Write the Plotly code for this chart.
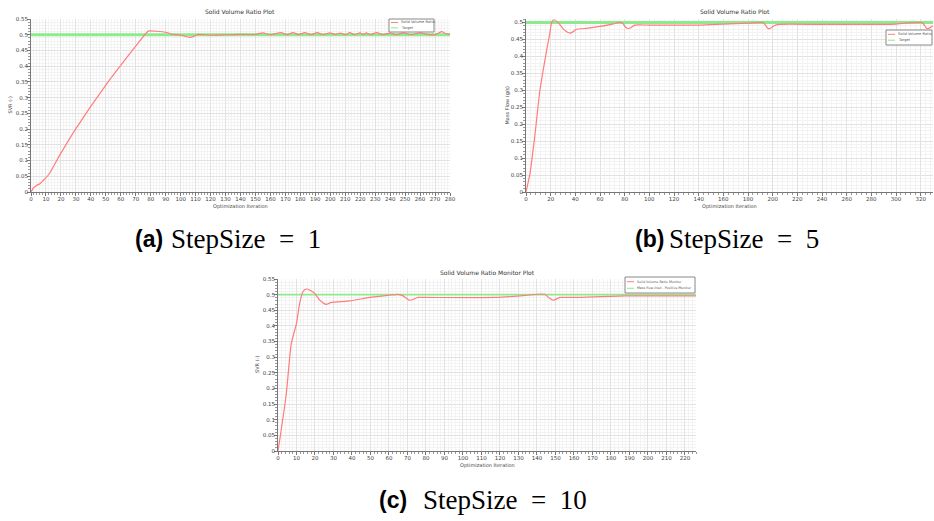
import plotly.graph_objects as go

# ---------------- data ----------------
# (a) StepSize = 1
a_iter = [0, 1.6, 3.8, 6, 9.4, 12.2, 19.8, 29.8, 50, 69.7, 77.3, 79, 84, 90.6, 95, 100.7, 105.8, 108.5, 111.8,
          120, 130, 140, 150, 154.8, 160, 167, 171, 175, 179, 183, 187, 191.3, 195, 199.8, 203, 207, 210, 213,
          216, 219.8, 222, 224, 227, 231, 235, 240, 244, 248.8, 254, 260, 266, 270, 274.4, 277, 280]
a_svr = [0.0, 0.0127, 0.021, 0.0265, 0.0425, 0.058, 0.122, 0.2, 0.34, 0.462, 0.507, 0.512, 0.511, 0.507, 0.501,
         0.498, 0.4915, 0.494, 0.501, 0.499, 0.5, 0.501, 0.501, 0.506, 0.5, 0.507, 0.5, 0.507, 0.5, 0.507, 0.5,
         0.507, 0.5, 0.506, 0.501, 0.505, 0.5, 0.507, 0.5, 0.506, 0.501, 0.506, 0.5, 0.507, 0.5, 0.505, 0.5,
         0.506, 0.5, 0.506, 0.5, 0.5, 0.51, 0.504, 0.502]
a_target_x = [0, 280]
a_target_y = [0.5, 0.5]

# (b) StepSize = 5
b_iter = [0, 3.2, 7.3, 11.3, 16.7, 19.4, 20.8, 22.7, 26, 31, 35.6, 38, 40.5, 50, 60, 70, 76, 78.5, 81, 83, 85,
          88, 100, 140, 160, 180, 191, 193, 196, 198, 201, 205, 240, 300, 305, 320, 322, 325, 327, 330]
b_svr = [0.0, 0.054, 0.17, 0.3, 0.417, 0.47, 0.5, 0.5078, 0.5, 0.478, 0.4686, 0.472, 0.479, 0.483, 0.488,
         0.495, 0.5, 0.497, 0.485, 0.482, 0.484, 0.492, 0.492, 0.492, 0.495, 0.498, 0.5, 0.497, 0.483, 0.482,
         0.49, 0.494, 0.494, 0.495, 0.497, 0.5, 0.497, 0.482, 0.483, 0.49]
b_target_x = [0, 330]
b_target_y = [0.5, 0.5]

# (c) StepSize = 10
c_iter = [0, 0.9, 4.5, 7.2, 10, 11.7, 13.5, 15.3, 17, 19.8, 22.5, 26, 28.9, 38.8, 49.6, 60, 65, 67.6, 71.2,
          75.7, 80, 118, 132.5, 142.5, 144.3, 146.5, 148.8, 152.4, 160, 188, 226]
c_svr = [0.0, 0.034, 0.184, 0.344, 0.408, 0.472, 0.51, 0.518, 0.515, 0.504, 0.483, 0.469, 0.475, 0.48, 0.491,
         0.498, 0.501, 0.496, 0.482, 0.491, 0.491, 0.491, 0.497, 0.502, 0.501, 0.49, 0.482, 0.491, 0.491,
         0.496, 0.496]
c_target_x = [0, 226]
c_target_y = [0.5, 0.5]

titles = ["Solid Volume Ratio Plot", "Solid Volume Ratio Plot", "Solid Volume Ratio Monitor Plot"]
ylabels = ["SVR (-)", "Mass Flow (g/s)", "SVR (-)"]
xlabel = "Optimization Iteration"
legend_names = [["Solid Volume Ratio", "Target"], ["Solid Volume Ratio", "Target"],
                ["Solid Volume Ratio Monitor", "Mass flow inlet - Positive Monitor"]]
captions = ["(a)", "(b)", "(c)"]
caption_text = ["StepSize&nbsp;&nbsp;=&nbsp;&nbsp;1", "StepSize&nbsp;&nbsp;=&nbsp;&nbsp;5",
                "StepSize&nbsp;&nbsp;=&nbsp;&nbsp;10"]

# ---------------- figure ----------------
W, H = 934, 521
RED = "rgb(255,125,125)"
GREEN = "rgb(140,235,140)"

fig = go.Figure()

panels = [
    dict(x=a_iter, y=a_svr, tx=a_target_x, ty=a_target_y, xr=[0, 280], yr=[0, 0.55], dt=10, gw=3),
    dict(x=b_iter, y=b_svr, tx=b_target_x, ty=b_target_y, xr=[0, 330], yr=[0, 0.51], dt=20, gw=3),
    dict(x=c_iter, y=c_svr, tx=c_target_x, ty=c_target_y, xr=[0, 226], yr=[0, 0.55], dt=10, gw=1.6),
]
# pixel boxes: left, right, top, bottom
boxes = [(31, 450, 19, 192), (526, 933, 19, 192), (278, 696, 279, 451)]
# legend boxes: left, right, top, bottom, row1 y, row2 y, font size
legend_boxes = [(389, 434, 19, 32, 22.5, 27.8, 3.6), (886, 932, 30, 45, 34.3, 40.2, 3.6),
                (625, 695, 277, 293, 281.7, 288.3, 3.3)]
title_pos = [(240, 12), (735, 12), (487, 272)]
ylabel_x = [10, 507, 257]
xlabel_y = [206, 206, 465]
caption_pos = [(133, 169, 239), (633, 667, 239), (377, 421, 500)]

shapes = []
annotations = []


def px(x):
    return x / W


def py(y):
    return 1 - y / H


for i, p in enumerate(panels):
    sfx = "" if i == 0 else str(i + 1)
    fig.add_trace(go.Scatter(x=p["tx"], y=p["ty"], mode="lines", name=legend_names[i][1],
                             line=dict(color=GREEN, width=p["gw"]),
                             xaxis="x" + sfx, yaxis="y" + sfx, showlegend=False))
    fig.add_trace(go.Scatter(x=p["x"], y=p["y"], mode="lines", name=legend_names[i][0],
                             line=dict(color=RED, width=1.2, shape="spline", smoothing=0.6),
                             xaxis="x" + sfx, yaxis="y" + sfx, showlegend=False))

axis_common = dict(showline=True, linecolor="#777", linewidth=1, ticks="outside", ticklen=3,
                   tickcolor="#777", tickfont=dict(family="DejaVu Sans", size=5.5, color="#444"),
                   showgrid=True, gridcolor="#e2e2e2", gridwidth=1, zeroline=False,
                   mirror=False)
layout = dict(width=W, height=H, margin=dict(l=0, r=0, t=0, b=0, autoexpand=False), paper_bgcolor="white",
              plot_bgcolor="white", showlegend=False)

for i, p in enumerate(panels):
    l, r, t, b = boxes[i]
    sfx = "" if i == 0 else str(i + 1)
    xa = dict(axis_common, domain=[px(l), px(r)], range=p["xr"], dtick=p["dt"], tick0=0,
              anchor="y" + sfx, ticklabelstandoff=-2,
              minor=dict(dtick=p["dt"] / 5, showgrid=True, gridcolor="#f3f3f3", ticks="outside",
                         ticklen=2, tickcolor="#999"))
    ya = dict(axis_common, domain=[py(b), py(t)], range=p["yr"], dtick=0.05, tick0=0,
              anchor="x" + sfx, tickformat="~g", ticklabelstandoff=-2,
              minor=dict(dtick=0.01, showgrid=True, gridcolor="#f3f3f3", ticks="outside",
                         ticklen=2, tickcolor="#999"))
    layout["xaxis" + sfx] = xa
    layout["yaxis" + sfx] = ya

    # manual legend box
    ll, lr, lt, lb, r1, r2, fs = legend_boxes[i]
    shapes.append(dict(type="rect", xref="paper", yref="paper", x0=px(ll), x1=px(lr), y0=py(lb), y1=py(lt),
                       line=dict(color="#888", width=1), fillcolor="white", layer="above"))
    for ry, col, name in [(r1, RED, legend_names[i][0]), (r2, GREEN, legend_names[i][1])]:
        shapes.append(dict(type="line", xref="paper", yref="paper", x0=px(ll + 2), x1=px(ll + 9),
                           y0=py(ry), y1=py(ry), line=dict(color=col, width=1), layer="above"))
        annotations.append(dict(text=name, x=px(ll + 10), y=py(ry), xref="paper", yref="paper",
                                xanchor="left", yanchor="middle", showarrow=False,
                                font=dict(family="DejaVu Sans", size=fs, color="#555")))

    tx, ty = title_pos[i]
    annotations.append(dict(text=titles[i], x=px(tx), y=py(ty), xref="paper", yref="paper",
                            xanchor="center", yanchor="middle",
                            showarrow=False, font=dict(family="DejaVu Sans", size=6, color="#333")))
    annotations.append(dict(text=ylabels[i], x=px(ylabel_x[i]), y=py((t + b) / 2),
                            xref="paper", yref="paper", showarrow=False, textangle=-90,
                            xanchor="center", yanchor="middle",
                            font=dict(family="DejaVu Sans", size=5, color="#444")))
    annotations.append(dict(text=xlabel, x=px((l + r) / 2), y=py(xlabel_y[i]),
                            xref="paper", yref="paper", showarrow=False,
                            xanchor="center", yanchor="middle",
                            font=dict(family="DejaVu Sans", size=5, color="#444")))
    c1, c2, cy = caption_pos[i]
    annotations.append(dict(text="<b>" + captions[i] + "</b>", x=px(c1), y=py(cy), xref="paper", yref="paper",
                            xanchor="left", yanchor="middle", showarrow=False,
                            font=dict(family="Liberation Sans", size=23, color="black")))
    annotations.append(dict(text=caption_text[i], x=px(c2), y=py(cy), xref="paper", yref="paper",
                            xanchor="left", yanchor="middle", showarrow=False,
                            font=dict(family="Liberation Serif", size=27, color="black")))

layout["shapes"] = shapes
layout["annotations"] = annotations
fig.update_layout(**layout)
fig.write_html("out.html")
